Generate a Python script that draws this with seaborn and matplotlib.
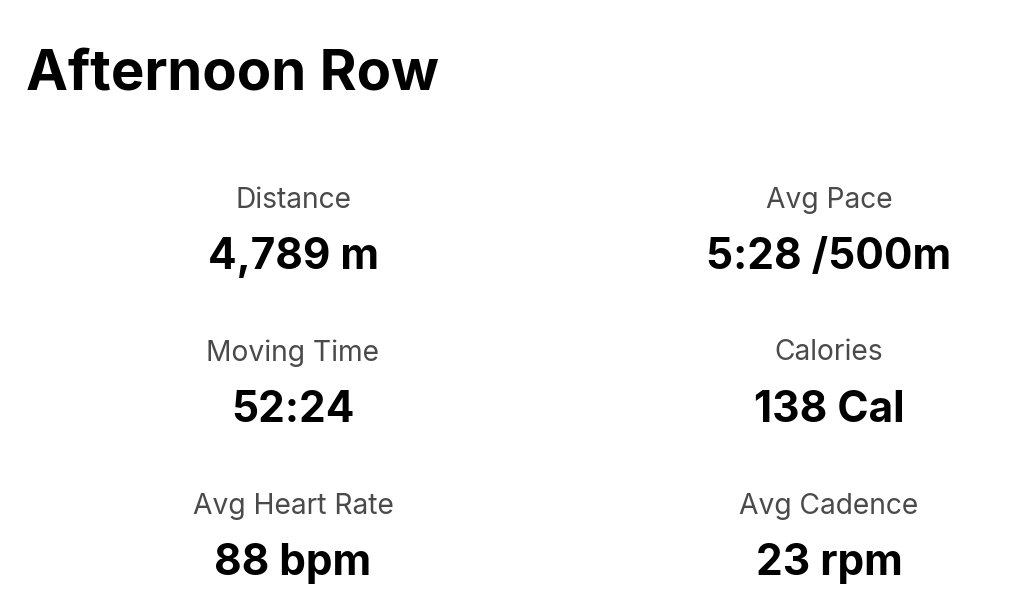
import matplotlib
matplotlib.use("Agg")
import matplotlib.pyplot as plt
import seaborn as sns

sns.set_theme(style="white")
plt.rcParams["font.family"] = ["Inter", "DejaVu Sans"]

# Datos de la tarjeta
titulo = "Afternoon Row"
etiquetas = ["Distance", "Avg Pace", "Moving Time", "Calories", "Avg Heart Rate", "Avg Cadence"]
valores = ["4,789 m", "5:28 /500m", "52:24", "138 Cal", "88 bpm", "23 rpm"]

fig = plt.figure(figsize=(10.24, 6.14), dpi=100)
ax = fig.add_axes([0, 0, 1, 1])
ax.set_xlim(0, 1024)
ax.set_ylim(614, 0)
ax.axis("off")

ax.text(26, 75, titulo, fontsize=40.5, fontweight="bold", color="#000000",
        ha="left", va="center")

col_x = [293, 829]
fila_y = [200, 353, 506]
for i, (lab, val) in enumerate(zip(etiquetas, valores)):
    x = col_x[i % 2]
    y = fila_y[i // 2]
    ax.text(x, y, lab, fontsize=20.3, color="#4a4a4a", ha="center", va="center")
    ax.text(x, y + 58, val, fontsize=30.5, fontweight="bold", color="#000000",
            ha="center", va="center")

fig.savefig("out.png", dpi=100)
